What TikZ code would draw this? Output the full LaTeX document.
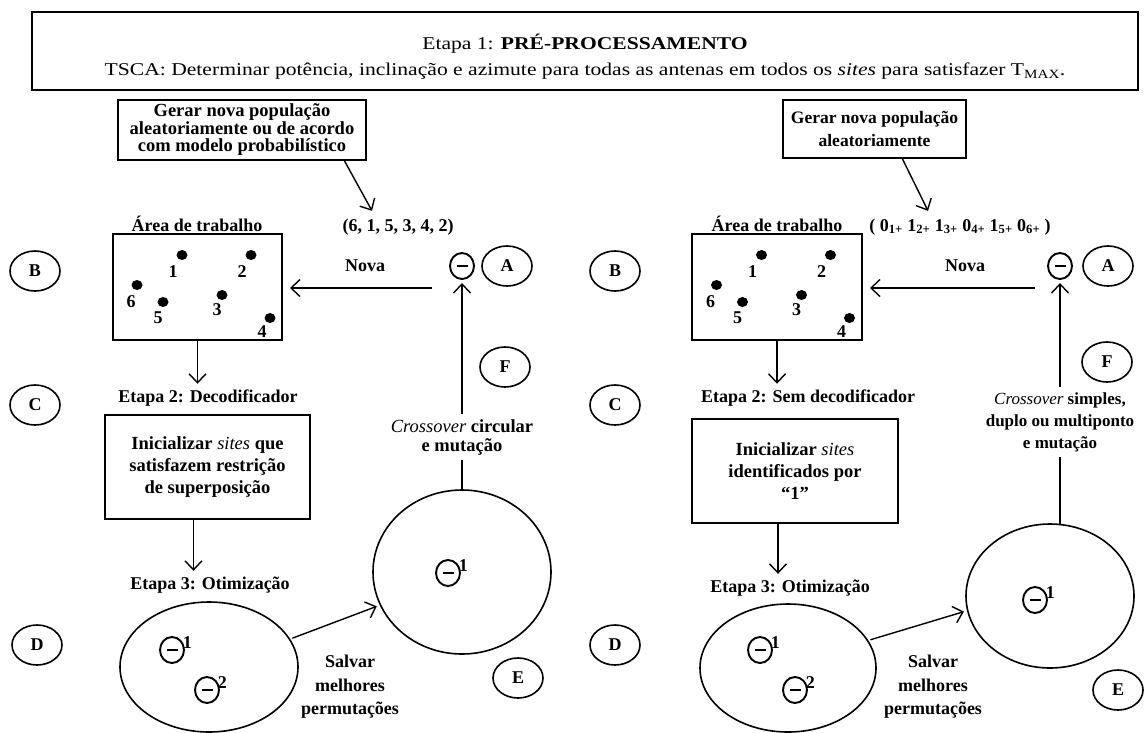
\documentclass[tikz,border=0pt]{standalone}
\usepackage{fontspec}
\setmainfont{Liberation Serif}
\newfontfamily\hdfont{Liberation Serif}[FakeStretch=1.2]
\usetikzlibrary{arrows.meta,shapes.geometric}
\begin{document}
\begin{tikzpicture}[x=1pt,y=-1pt,
  every node/.style={inner sep=0pt, outer sep=0pt},
  bt/.style={font=\fontsize{18}{18}\selectfont\bfseries, align=center},
  hd/.style={font=\hdfont\fontsize{18}{20}\selectfont, align=center},
  tbox/.style={draw, line width=1.7pt, align=center, font=\fontsize{18.5}{17.5}\selectfont\bfseries},
  letter/.style={draw, ellipse, line width=1.6pt, minimum width=50pt, minimum height=40pt, font=\fontsize{18}{18}\selectfont\bfseries},
  pop/.style={draw, ellipse, line width=1.6pt},
  ind/.style={draw, ellipse, line width=1.9pt, minimum width=24pt, minimum height=26pt,
    path picture={\draw[line width=2.8pt] ([xshift=-5.5pt]path picture bounding box.center) -- ([xshift=5.5pt]path picture bounding box.center);}},
  site/.style={fill, ellipse, minimum width=11pt, minimum height=10pt},
  num/.style={font=\fontsize{18}{18}\selectfont\bfseries},
  flow/.style={line width=1.4pt, -{Straight Barb[length=9pt,width=17pt,line width=1.4pt]}},
  plain/.style={line width=1.4pt},
]
\useasboundingbox (0,0) rectangle (1146,732);

% ---------- header ----------
\node[draw, line width=1.7pt, minimum width=1106pt, minimum height=78pt] (hdr) at (585,51) {};
\node[hd] (hdr1) at (585,44) {Etapa 1: \textbf{PRÉ-PROCESSAMENTO}};
\node[hd] (hdr2) at (585,71) {TSCA: Determinar potência, inclinação e azimute para todas as antenas em todos os \textit{sites} para satisfazer T\textsubscript{MAX}.};

% ---------- left flow ----------
\node[tbox, minimum width=248pt, minimum height=60pt] (genL) at (242,130)
  {Gerar nova população\\aleatoriamente ou de acordo\\com modelo probabilístico};
\node[bt] (seqL) at (398,227) {(6, 1, 5, 3, 4, 2)};
\draw[flow] ([xshift=-22pt]genL.south east) -- ([xshift=-26pt,yshift=8pt]seqL.north);

\node[bt] (areaL) at (197,224) {Área de trabalho};
\node[draw, line width=1.7pt, minimum width=169pt, minimum height=106pt] (wsL) at (197.5,287) {};
\begin{scope}[shift={(197.5,287)}]
  \node[site] (s1L) at (-15.5,-32) {}; \node[num] (n1L) at (-24.5,-15) {1};
  \node[site] (s2L) at (53.5,-32) {};  \node[num] (n2L) at (44.5,-15) {2};
  \node[site] (s6L) at (-60.5,-2) {};  \node[num] (n6L) at (-66.5,15) {6};
  \node[site] (s5L) at (-34.5,15) {};  \node[num] (n5L) at (-39.5,31) {5};
  \node[site] (s3L) at (24.5,8) {};    \node[num] (n3L) at (19.5,23) {3};
  \node[site] (s4L) at (72.5,31) {};   \node[num] (n4L) at (64.5,45) {4};
\end{scope}

\node[letter] (BL) at (35,271) {B};
\node[bt] (novaL) at (365,266) {Nova};
\node[ind] (thL) at (462,266) {};
\node[letter] (AL) at (507,266) {A};
\coordinate (nvL) at (432,288);
\draw[flow] (nvL) -- ([xshift=8pt]wsL.east |- nvL);

\node[letter] (FL) at (505,367) {F};
\node[bt, inner sep=5pt, font=\fontsize{18.5}{19}\selectfont\bfseries] (coL) at (462,437) {{\mdseries\itshape Crossover} circular\\e mutação};
\node[pop, minimum width=178pt, minimum height=164pt] (popEL) at (462,572) {};
\node[ind] (thEL) at (448,573) {};
\node[num] at ([xshift=7pt,yshift=-2pt]thEL.north east) {1};
\draw[plain] (popEL.north) -- (coL.south);
\draw[flow] (coL.north) -- ([yshift=-4pt]thL.south);
\node[letter] (ESL) at (518,678) {E};

\node[letter] (CL) at (35,405) {C};
\node[bt] (et2L) at (208,398) {Etapa 2: Decodificador};
\draw[flow] (wsL.south) -- ([yshift=6pt]wsL.south |- et2L.north);
\node[tbox, minimum width=205pt, minimum height=104pt, font=\fontsize{18.5}{22}\selectfont\bfseries] (initL) at (207.5,467)
  {Inicializar {\mdseries\itshape sites} que\\satisfazem restrição\\de superposição};
\node[bt] (et3L) at (210,585) {Etapa 3: Otimização};
\draw[flow] ([xshift=-14pt]initL.south) -- ([xshift=-14pt,yshift=6pt]initL.south |- et3L.north);

\node[letter] (DL) at (37,645) {D};
\node[pop, minimum width=178pt, minimum height=130pt] (popDL) at (209,667) {};
\node[ind] (thD1L) at (172,650) {};
\node[num] at ([xshift=7pt,yshift=-2pt]thD1L.north east) {1};
\node[ind] (thD2L) at (207,690) {};
\node[num] at ([xshift=7pt,yshift=-2pt]thD2L.north east) {2};
\draw[flow, shorten <=3pt, shorten >=4pt] (popDL.19) -- (popEL.202);
\node[bt, font=\fontsize{18}{23.5}\selectfont\bfseries] (svL) at (350,687) {Salvar\\melhores\\permutações};

% ---------- right flow ----------
\node[tbox, minimum width=183pt, minimum height=58pt, font=\fontsize{17.5}{23}\selectfont\bfseries] (genR) at (874.5,129)
  {Gerar nova população\\aleatoriamente};
\node[bt] (seqR) at (960,227) {( 0\textsubscript{1+} 1\textsubscript{2+} 1\textsubscript{3+} 0\textsubscript{4+} 1\textsubscript{5+} 0\textsubscript{6+} )};
\draw[flow] ([xshift=-64pt]genR.south east) -- ([xshift=-32pt,yshift=8pt]seqR.north);

\node[bt] (areaR) at (777,224) {Área de trabalho};
\node[draw, line width=1.7pt, minimum width=170pt, minimum height=106pt] (wsR) at (777,287) {};
\begin{scope}[shift={(777,287)}]
  \node[site] (s1R) at (-15.5,-32) {}; \node[num] (n1R) at (-24.5,-15) {1};
  \node[site] (s2R) at (53.5,-32) {};  \node[num] (n2R) at (44.5,-15) {2};
  \node[site] (s6R) at (-60.5,-2) {};  \node[num] (n6R) at (-66.5,15) {6};
  \node[site] (s5R) at (-34.5,15) {};  \node[num] (n5R) at (-39.5,31) {5};
  \node[site] (s3R) at (24.5,8) {};    \node[num] (n3R) at (19.5,23) {3};
  \node[site] (s4R) at (72.5,31) {};   \node[num] (n4R) at (64.5,45) {4};
\end{scope}

\node[letter] (BR) at (615,271) {B};
\node[bt] (novaR) at (965,266) {Nova};
\node[ind] (thR) at (1060,266) {};
\node[letter] (AR) at (1108,266) {A};
\coordinate (nvR) at (1035,288);
\draw[flow] (nvR) -- ([xshift=8pt]wsR.east |- nvR);

\node[letter] (FR) at (1107,362) {F};
\node[bt, inner sep=5pt, font=\fontsize{17}{22}\selectfont\bfseries] (coR) at (1060,422)
  {{\mdseries\itshape Crossover} simples,\\duplo ou multiponto\\e mutação};
\node[pop, minimum width=168pt, minimum height=144pt] (popER) at (1050,596) {};
\node[ind] (thER) at (1035,600) {};
\node[num] at ([xshift=7pt,yshift=-2pt]thER.north east) {1};
\draw[plain] (popER.north -| thR) -- (coR.south -| thR);
\draw[flow] (coR.north -| thR) -- ([yshift=-4pt]thR.south);
\node[letter] (ESR) at (1118,690) {E};

\node[letter] (CR) at (615,405) {C};
\node[bt] (et2R) at (808,398) {Etapa 2: Sem decodificador};
\draw[flow] (wsR.south) -- ([yshift=6pt]wsR.south |- et2R.north);
\node[tbox, minimum width=206pt, minimum height=104pt, font=\fontsize{18.5}{22}\selectfont\bfseries] (initR) at (795,471)
  {Inicializar {\mdseries\itshape sites}\\identificados por\\“1”};
\node[bt] (et3R) at (790,588) {Etapa 3: Otimização};
\draw[flow] ([xshift=-17pt]initR.south) -- ([xshift=-17pt,yshift=6pt]initR.south |- et3R.north);

\node[letter] (DR) at (615,645) {D};
\node[pop, minimum width=176pt, minimum height=128pt] (popDR) at (788,668) {};
\node[ind] (thD1R) at (760,650) {};
\node[num] at ([xshift=7pt,yshift=-2pt]thD1R.north east) {1};
\node[ind] (thD2R) at (795,690) {};
\node[num] at ([xshift=7pt,yshift=-2pt]thD2R.north east) {2};
\draw[flow, shorten <=3pt, shorten >=4pt] (popDR.19) -- (popER.190);
\node[bt, font=\fontsize{18}{23.5}\selectfont\bfseries] (svR) at (933,687) {Salvar\\melhores\\permutações};
\end{tikzpicture}
\end{document}
